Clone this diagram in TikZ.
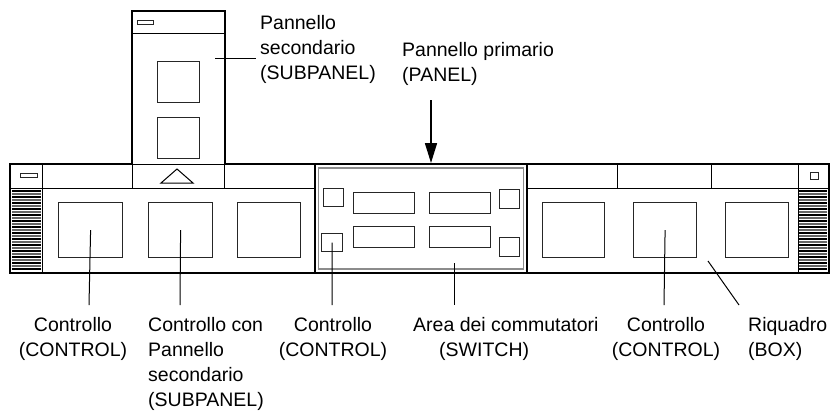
\documentclass[tikz,border=0pt]{standalone}
\usepackage{fontspec}
\setmainfont{Liberation Sans}
\usetikzlibrary{arrows.meta}
\newcommand{\lines}[2]{\begin{tabular}[t]{@{}#1@{}}#2\end{tabular}}
\begin{document}
\begin{tikzpicture}[x=1pt,y=-1pt,
  thinline/.style={line width=1pt},
  heavy/.style={line width=2.2pt},
  ctrlbox/.style={draw=black!85, line width=1.2pt, inner sep=0pt, anchor=north west, fill=white},
  lbl/.style={font=\fontsize{19.5}{25}\selectfont, inner sep=0pt},
  leader/.style={line width=1pt}]
\useasboundingbox[fill=white] (0,0) rectangle (830,413);

% ---- subpanel ----
\draw[heavy] (132,164) -- (132,11) -- (225,11) -- (225,164);
\draw[thinline] (132,33) -- (225,33);
\node[ctrlbox, minimum width=16pt, minimum height=4pt, line width=1.4pt] (sbar) at (137,20) {};
\node[ctrlbox, minimum width=42pt, minimum height=41pt] (s1) at (157,61) {};
\node[ctrlbox, minimum width=42pt, minimum height=41pt] (s2) at (157,117) {};
\coordinate (subin) at (215,58);

% ---- main bar ----
\draw[heavy] (132,164) -- (10,164) -- (10,273) -- (829,273) -- (829,164) -- (225,164);
\draw[thinline] (132,164) -- (225,164);
\draw[thinline] (10,188) -- (315,188);
\draw[thinline] (527,188) -- (829,188);
\draw[thinline] (42,164) -- (42,273);
\draw[thinline] (798,164) -- (798,273);
\foreach \x in {132,224,617,711} \draw[thinline] (\x,164) -- (\x,188);
% handles stripes
\foreach \y [count=\i] in {191,194,...,271} {
  \pgfmathsetmacro{\g}{mod(\i,2)==0 ? 60 : 100}
  \draw[line width=1.1pt, black!\g] (12,\y) -- (41,\y);
  \draw[line width=1.1pt, black!\g] (799,\y) -- (827,\y);
}
\node[ctrlbox, minimum width=17pt, minimum height=4pt, line width=1.4pt] (lbar) at (20,173) {};
\node[ctrlbox, minimum width=8pt, minimum height=7pt, line width=1.4pt] (rbar) at (810,172) {};
% triangle
\draw[thinline] (161,183) -- (177,169) -- (193,183) -- cycle;

% control boxes
\node[ctrlbox, minimum width=64pt, minimum height=55pt] (c1) at (58,202) {};
\node[ctrlbox, minimum width=64pt, minimum height=55pt] (c2) at (148,202) {};
\node[ctrlbox, minimum width=63pt, minimum height=55pt] (c3) at (237,202) {};
\node[ctrlbox, minimum width=62pt, minimum height=55pt] (c4) at (542,202) {};
\node[ctrlbox, minimum width=63pt, minimum height=55pt] (c5) at (633,202) {};
\node[ctrlbox, minimum width=63pt, minimum height=55pt] (c6) at (725,202) {};

% switch area
\draw[line width=1.3pt] (315,164) rectangle (527,273);
\draw[line width=1.2pt, black!45] (318.5,168) rectangle (523.5,269);
\node[ctrlbox, minimum width=20pt, minimum height=18pt] (w1) at (323,188) {};
\node[ctrlbox, minimum width=21pt, minimum height=18pt] (w2) at (321,233) {};
\node[ctrlbox, minimum width=61pt, minimum height=21pt] (w3) at (353,192) {};
\node[ctrlbox, minimum width=61pt, minimum height=21pt] (w4) at (353,226) {};
\node[ctrlbox, minimum width=61pt, minimum height=21pt] (w5) at (429,192) {};
\node[ctrlbox, minimum width=61pt, minimum height=21pt] (w6) at (429,226) {};
\node[ctrlbox, minimum width=20pt, minimum height=19pt] (w7) at (499,189) {};
\node[ctrlbox, minimum width=20pt, minimum height=19pt] (w8) at (499,237) {};
\coordinate (swin) at (454,263);
\coordinate (boxin) at (708,261);

% ---- labels ----
\node[lbl, anchor=base west] (Lsub) at (260,29) {\lines{l}{Pannello\\secondario\\(SUBPANEL)}};
\node[lbl, anchor=base west] (Lpan) at (402,56) {\lines{l}{Pannello primario\\(PANEL)}};
\node[lbl, anchor=base] (L1) at (73,331) {\lines{c}{Controllo\\(CONTROL)}};
\node[lbl, anchor=base west] (L2) at (148,331) {\lines{l}{Controllo con\\Pannello\\secondario\\(SUBPANEL)}};
\node[lbl, anchor=base] (L3) at (333,331) {\lines{c}{Controllo\\(CONTROL)}};
\node[lbl, anchor=base west] (L4) at (413,331) {\lines{l}{Area dei commutatori\\\hspace*{26pt}(SWITCH)}};
\node[lbl, anchor=base] (L5) at (666,331) {\lines{c}{Controllo\\(CONTROL)}};
\node[lbl, anchor=base west] (L6) at (748,331) {\lines{l}{Riquadro\\(BOX)}};

\coordinate (subout) at (256,58);
\coordinate (arrtop) at (431,100);
\coordinate (arrtip) at (431,163);
\coordinate (e1) at (89,305);
\coordinate (e2) at (180,305);
\coordinate (e3) at (332,305);
\coordinate (e4) at (454,305);
\coordinate (e5) at (664,305);
\coordinate (e6) at (739,305);

% ---- connectors ----
\draw[leader] (subin) -- (subout);
\draw[line width=1.6pt, -{Triangle[length=20pt,width=12pt]}] (arrtop) -- (arrtip);
\draw[leader] (c1.center) -- (e1);
\draw[leader] (c2.center) -- (e2);
\draw[leader] (w2.center) -- (e3);
\draw[leader] (swin) -- (e4);
\draw[leader] (c5.center) -- (e5);
\draw[leader] (boxin) -- (e6);
\end{tikzpicture}
\end{document}
